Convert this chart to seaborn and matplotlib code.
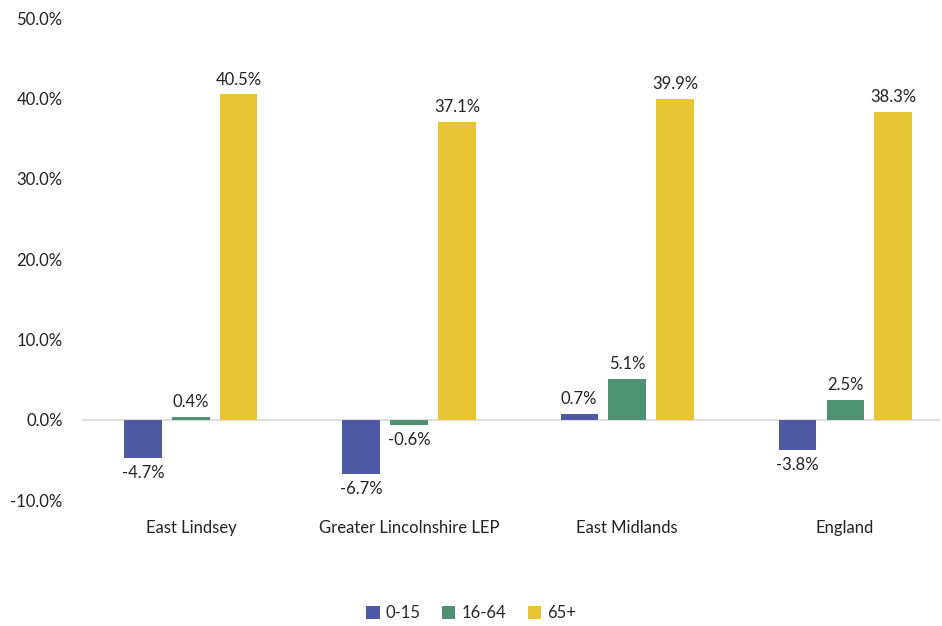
import pandas as pd
import seaborn as sns
import matplotlib.pyplot as plt
from matplotlib.ticker import FuncFormatter

areas = ["East Lindsey", "Greater Lincolnshire LEP", "East Midlands", "England"]
age_groups = ["0-15", "16-64", "65+"]
change_0_15 = [-4.7, -6.7, 0.7, -3.8]
change_16_64 = [0.4, -0.6, 5.1, 2.5]
change_65_plus = [40.5, 37.1, 39.9, 38.3]
colours = ["#4F5AA5", "#4E9173", "#E8C633"]

dados = pd.DataFrame({
    "Area": areas * 3,
    "Change": change_0_15 + change_16_64 + change_65_plus,
    "Age": [age_groups[0]] * 4 + [age_groups[1]] * 4 + [age_groups[2]] * 4,
})

sns.set_theme(style="white")
plt.rcParams["font.family"] = ["Lato", "DejaVu Sans"]
plt.rcParams["font.size"] = 12

fig = plt.figure(figsize=(9.42, 6.26), dpi=100)
ax = fig.add_axes([0.087, 0.201, 0.911, 0.770])
sns.barplot(
    data=dados, x="Area", y="Change", hue="Age",
    palette=colours, width=0.66, gap=0.227, ax=ax, saturation=1,
    linewidth=0,
)

for cont in ax.containers:
    ax.bar_label(cont, fmt="%.1f%%", padding=5, fontsize=12, color="#222222")

ax.set_xlim(-0.5, 3.436)
ax.set_ylim(-10, 50)
ax.set_yticks(range(-10, 51, 10))
ax.yaxis.set_major_formatter(FuncFormatter(lambda v, p: f"{v:.1f}%"))
ax.axhline(0, color="#D9D9D9", lw=1.2, zorder=0)
ax.set_xlabel("")
ax.set_ylabel("")
ax.tick_params(axis="y", pad=14, labelsize=12, colors="#222222", length=0)
ax.tick_params(axis="x", pad=14, labelsize=12, colors="#222222", length=0)
for s in ax.spines.values():
    s.set_visible(False)
ax.grid(False)

ax.legend(
    frameon=False, title="", ncol=3, loc="center",
    bbox_to_anchor=(0.5, 0.02), bbox_transform=fig.transFigure,
    handlelength=0.8, handleheight=0.8, handletextpad=0.35, columnspacing=1.3,
    fontsize=12,
)

plt.savefig("out.png", dpi=100)
plt.close()
